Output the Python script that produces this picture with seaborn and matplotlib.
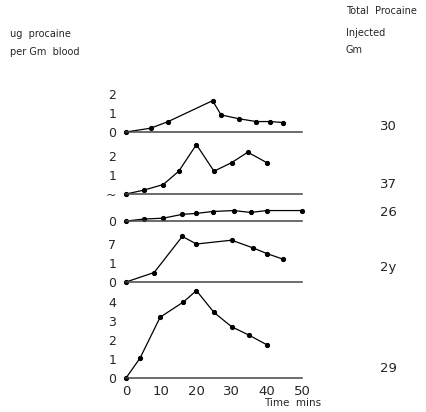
import matplotlib
matplotlib.use('Agg')
import matplotlib.pyplot as plt
import seaborn as sns
import pandas as pd

sns.set_style('white')
plt.rcParams['font.family'] = ['DejaVu Sans']

W, H = 426, 412

# blood levels (ug procaine per Gm blood) against time (mins), one panel per case
time_a = [0, 7, 12, 24.6, 27, 32, 37, 41, 44.5]
conc_a = [0, 0.2, 0.55, 1.65, 0.9, 0.7, 0.55, 0.55, 0.5]

time_b = [0, 5, 10.6, 15, 20, 25, 30, 34.6, 40]
conc_b = [0, 0.2, 0.5, 1.2, 2.6, 1.2, 1.65, 2.2, 1.65]

time_c = [0, 5, 10.6, 16, 20, 24.6, 30.6, 35.4, 40, 50]
conc_c = [0, 0.1, 0.15, 0.35, 0.4, 0.5, 0.55, 0.45, 0.55, 0.55]

time_d = [0, 8, 16, 20, 30, 36, 40, 44.6]
conc_d = [0, 0.5, 2.4, 2.0, 2.2, 1.8, 1.5, 1.2]

time_e = [0, 4, 9.7, 16.3, 20, 25, 30, 35, 40]
conc_e = [0, 1.05, 3.2, 4.0, 4.6, 3.45, 2.7, 2.25, 1.75]

total_injected = ['30', '37', '26', '2y', '29']
ytick_sets = [[0, 1, 2], [0, 1, 2], [0], [0, 1, 2], [0, 1, 2, 3, 4]]
ytick_text = [['0', '1', '2'], ['~', '1', '2'], ['0'], ['0', '1', '7'], ['0', '1', '2', '3', '4']]
xticks = [0, 10, 20, 30, 40, 50]

panels = [(time_a, conc_a), (time_b, conc_b), (time_c, conc_c),
          (time_d, conc_d), (time_e, conc_e)]

# layout in pixels: baseline y, top y, label y
baselines = [132, 194, 221, 282, 378]
tops = [90, 138, 205, 230, 286]
label_y = [127, 185, 212, 268, 368]
x0, x1 = 126, 302
scale = 19.0  # px per unit

fig = plt.figure(figsize=(W / 100, H / 100), dpi=100)

for i, (t, c) in enumerate(panels):
    base, top = baselines[i], tops[i]
    h = base - top
    ax = fig.add_axes([x0 / W, 1 - base / H, (x1 - x0) / W, h / H])
    df = pd.DataFrame({'time': t, 'conc': c})
    sns.lineplot(data=df, x='time', y='conc', ax=ax, color='black', lw=0.9,
                 marker='o', markersize=3.0, markeredgecolor='black',
                 clip_on=False)
    ax.set_xlim(0, 50)
    ax.set_ylim(0, h / scale)
    for s in ['top', 'right', 'left']:
        ax.spines[s].set_visible(False)
    ax.spines['bottom'].set_color('#444444')
    ax.spines['bottom'].set_linewidth(1.1)
    ax.set_yticks(ytick_sets[i])
    ax.set_yticklabels(ytick_text[i], fontsize=9)
    ax.tick_params(axis='y', length=0, pad=7)
    ax.set_xticks(xticks)
    ax.tick_params(axis='x', direction='out', length=3, width=1, color='#444444')
    if i < 4:
        ax.set_xticklabels([])
    else:
        ax.set_xticklabels([str(v) for v in xticks], fontsize=9.5)
        ax.tick_params(axis='x', pad=2)
    ax.set_xlabel('')
    ax.set_ylabel('')
    ax.patch.set_alpha(0)
    fig.text(380 / W, 1 - label_y[i] / H, total_injected[i], fontsize=9.5,
             va='center', ha='left')

fig.text(10 / W, 1 - 34 / H, 'ug  procaine', fontsize=7, va='center')
fig.text(10 / W, 1 - 52 / H, 'per Gm  blood', fontsize=7, va='center')
fig.text(346 / W, 1 - 11 / H, 'Total  Procaine', fontsize=7, va='center')
fig.text(346 / W, 1 - 33 / H, 'Injected', fontsize=7, va='center')
fig.text(346 / W, 1 - 50 / H, 'Gm', fontsize=7, va='center')
fig.text(264 / W, 1 - 403 / H, 'Time  mins', fontsize=7.5, va='center')

fig.savefig('out.png', dpi=100)
